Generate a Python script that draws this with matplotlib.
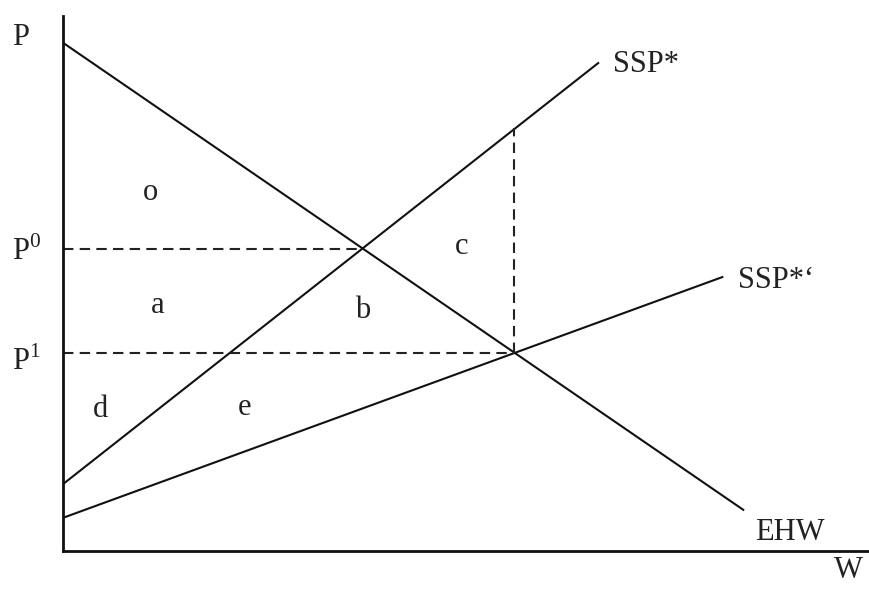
import numpy as np
import matplotlib as mpl
mpl.use("Agg")
from matplotlib import pyplot as plt

# curves, in arbitrary units (W on x, P on y), endpoints
EHW_W = [0.0, 84.4]
EHW_P = [95.0, 7.7]
SSP_W = [0.0, 66.4]
SSP_P = [12.5, 91.2]
SSP2_W = [0.0, 81.8]
SSP2_P = [6.2, 51.2]

# equilibrium levels
P0, P1 = 56.5, 37.0
W0, W1 = 37.1, 56.0
P_TOP = 79.0  # SSP* at W1

AREA_LABELS = ["o", "a", "b", "c", "d", "e"]
AREA_X = [9.9, 10.9, 36.2, 48.6, 3.7, 21.7]
AREA_Y = [65.6, 44.5, 43.6, 55.5, 25.1, 25.4]

plt.rcParams['font.family'] = ['Liberation Serif', 'DejaVu Serif']
plt.rcParams['mathtext.fontset'] = 'custom'
plt.rcParams['mathtext.rm'] = 'Liberation Serif'
FS = 22

fig = plt.figure(figsize=(8.69, 5.89), dpi=100)
ax = fig.add_axes([63 / 869, 38 / 589, 806 / 869, 535 / 589])
ax.set_xlim(0, 100)
ax.set_ylim(0, 100)

lw = 1.5
ax.plot(EHW_W, EHW_P, color='#111111', lw=lw)
ax.plot(SSP_W, SSP_P, color='#111111', lw=lw)
ax.plot(SSP2_W, SSP2_P, color='#111111', lw=lw)

dash = dict(color='#222222', lw=1.5, dashes=(5, 3))
ax.plot([0, W0], [P0, P0], **dash)
ax.plot([0, W1], [P1, P1], **dash)
ax.plot([W1, W1], [P1, P_TOP], **dash)

for lab, x, y in zip(AREA_LABELS, AREA_X, AREA_Y):
    ax.text(x, y, lab, fontsize=FS, color='#222222', ha='left', va='baseline')

ax.text(68.2, 89.5, "SSP*", fontsize=FS, color='#222222', va='baseline')
ax.text(83.8, 49.2, "SSP*\u2018", fontsize=FS, color='#222222', va='baseline')
ax.text(85.9, 2.1, "EHW", fontsize=FS, color='#222222', va='baseline')
ax.text(95.6, -5.0, "W", fontsize=FS, color='#222222', va='baseline', clip_on=False)
ax.text(-6.3, 94.6, "P", fontsize=FS, color='#222222', va='baseline')
ax.text(-6.3, 54.4, r"P$^\mathrm{0}$", fontsize=FS, color='#222222', va='baseline')
ax.text(-6.3, 33.8, r"P$^\mathrm{1}$", fontsize=FS, color='#222222', va='baseline')

for s in ['top', 'right']:
    ax.spines[s].set_visible(False)
for s in ['left', 'bottom']:
    ax.spines[s].set_linewidth(2)
    ax.spines[s].set_color('#111111')
ax.set_xticks([])
ax.set_yticks([])

fig.savefig("out.png", dpi=100)
